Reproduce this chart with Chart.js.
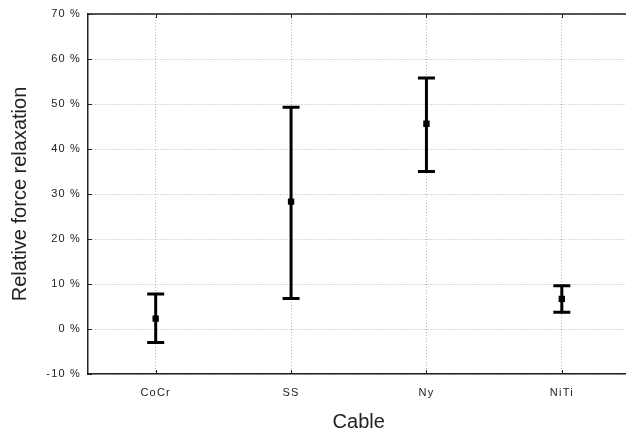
<!DOCTYPE html>
<html>
<head>
<meta charset="utf-8">
<script src="https://cdn.jsdelivr.net/npm/chart.js"></script>
<style>
  html, body { margin: 0; padding: 0; background: #fff; overflow: hidden; }
  #wrap { width: 634px; height: 434px; }
</style>
</head>
<body>
<div id="wrap"><canvas id="chart" width="634" height="434"></canvas></div>
<script>
// data (percent)
const cables = ['CoCr', 'SS', 'Ny', 'NiTi'];
const means = [2.3, 28.3, 45.6, 6.7];
const lows = [-3.0, 6.8, 35.0, 3.7];
const highs = [7.8, 49.3, 55.8, 9.6];
const yTicks = [-10, 0, 10, 20, 30, 40, 50, 60, 70];

const FONT = "'Liberation Sans', Arial, sans-serif";

// whiskers + caps under the mean markers, frame line and small inner ticks on top
const errorBars = {
  id: 'errorBars',
  beforeDraw(chart) {
    // tick labels in the original are spaced out a bit
    Object.values(chart.scales).forEach(s => {
      if (s._spaced) return;
      const orig = s.drawLabels;
      s.drawLabels = function(area) {
        this.ctx.save();
        this.ctx.letterSpacing = '1.2px';
        orig.call(this, area);
        this.ctx.restore();
      };
      s._spaced = true;
    });
  },
  beforeDatasetsDraw(chart) {
    const ctx = chart.ctx;
    const x = chart.scales.x, y = chart.scales.y;
    ctx.save();
    ctx.strokeStyle = '#000';
    ctx.lineWidth = 3;
    cables.forEach((c, i) => {
      const px = x.getPixelForValue(i);
      const top = y.getPixelForValue(highs[i]);
      const bot = y.getPixelForValue(lows[i]);
      ctx.beginPath();
      ctx.moveTo(px, top); ctx.lineTo(px, bot);
      ctx.moveTo(px - 8.5, top); ctx.lineTo(px + 8.5, top);
      ctx.moveTo(px - 8.5, bot); ctx.lineTo(px + 8.5, bot);
      ctx.stroke();
    });
    ctx.restore();
  },
  afterDraw(chart) {
    const ctx = chart.ctx, a = chart.chartArea;
    const x = chart.scales.x, y = chart.scales.y;
    ctx.save();
    ctx.strokeStyle = '#222';
    ctx.lineWidth = 1.5;
    ctx.beginPath();
    ctx.moveTo(a.left, a.top);
    ctx.lineTo(a.right, a.top);
    ctx.stroke();
    ctx.lineWidth = 1;
    ctx.beginPath();
    cables.forEach((c, i) => {
      const px = Math.round(x.getPixelForValue(i)) + 0.5;
      ctx.moveTo(px, a.bottom); ctx.lineTo(px, a.bottom - 4);
      ctx.moveTo(px, a.top); ctx.lineTo(px, a.top + 4);
    });
    yTicks.forEach(v => {
      const py = Math.round(y.getPixelForValue(v)) + 0.5;
      ctx.moveTo(a.left, py); ctx.lineTo(a.left + 4, py);
    });
    ctx.stroke();
    ctx.restore();
  }
};

new Chart(document.getElementById('chart'), {
  type: 'line',
  data: {
    labels: cables,
    datasets: [{
      data: means,
      showLine: false,
      pointStyle: 'rect',
      pointRadius: 4.5,
      backgroundColor: '#000',
      borderColor: '#000',
      borderWidth: 0
    }]
  },
  options: {
    responsive: false,
    animation: false,
    layout: { padding: { left: 8, top: 14, right: 4, bottom: 0 } },
    plugins: {
      legend: { display: false },
      tooltip: { enabled: false }
    },
    scales: {
      x: {
        type: 'category',
        offset: true,
        grid: { offset: false, color: '#b4b4b4', lineWidth: 1, drawTicks: false },
        border: { color: '#222', width: 1.5, dash: [1, 2] },
        ticks: { color: '#222', font: { family: FONT, size: 11 }, padding: 12 },
        title: { display: true, text: 'Cable', color: '#222', font: { family: FONT, size: 20 }, padding: { top: 8, bottom: 0 } },
        afterFit(scale) { scale.height = 60; }
      },
      y: {
        min: -10,
        max: 70,
        afterBuildTicks(scale) { scale.ticks = yTicks.map(v => ({ value: v })); },
        grid: { color: '#b4b4b4', lineWidth: 1, drawTicks: false },
        border: { color: '#222', width: 1.5, dash: [1, 2] },
        ticks: { color: '#222', font: { family: FONT, size: 11 }, padding: 7, callback: v => v + ' %' },
        title: { display: true, text: 'Relative force relaxation', color: '#222', font: { family: FONT, size: 20 }, padding: { top: 0, bottom: 4 } },
        afterFit(scale) { scale.width = 80; }
      }
    }
  },
  plugins: [errorBars]
});
</script>
</body>
</html>
